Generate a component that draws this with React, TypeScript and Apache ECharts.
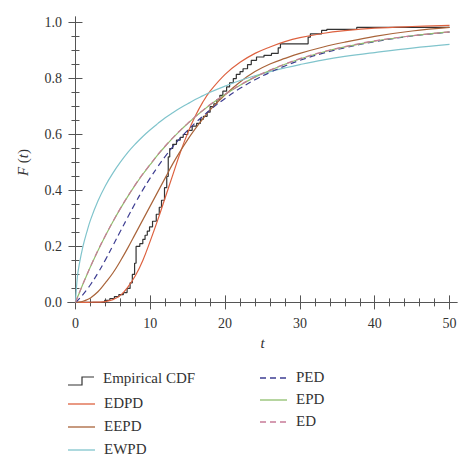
import * as echarts from "echarts";
import { useEffect, useRef } from "react";

// Shared t grid for the fitted CDF curves
const tGrid = [
  0, 0.25, 0.5, 1, 1.5, 2, 3, 4, 5, 6, 7, 8, 9, 10, 11, 12, 13, 14, 15, 16,
  17, 18, 20, 22, 24, 26, 28, 30, 33, 36, 40, 45, 50,
];

const edpd = [
  0, 0, 0, 0, 0, 0.0005, 0.001, 0.003, 0.01, 0.025, 0.055, 0.095, 0.15, 0.22,
  0.295, 0.375, 0.455, 0.535, 0.605, 0.665, 0.715, 0.755, 0.815, 0.858, 0.89,
  0.913, 0.932, 0.946, 0.961, 0.971, 0.98, 0.986, 0.99,
];
const eepd = [
  0, 0.0005, 0.001, 0.004, 0.009, 0.016, 0.038, 0.07, 0.105, 0.148, 0.195,
  0.245, 0.295, 0.345, 0.395, 0.445, 0.495, 0.54, 0.582, 0.62, 0.655, 0.688,
  0.742, 0.788, 0.825, 0.852, 0.872, 0.89, 0.912, 0.93, 0.951, 0.97, 0.983,
];
const ewpd = [
  0, 0.09, 0.135, 0.2, 0.25, 0.294, 0.362, 0.417, 0.462, 0.501, 0.536, 0.566,
  0.593, 0.617, 0.639, 0.66, 0.678, 0.695, 0.71, 0.725, 0.738, 0.751, 0.773,
  0.793, 0.81, 0.825, 0.838, 0.85, 0.866, 0.879, 0.893, 0.909, 0.922,
];
const ped = [
  0, 0.006, 0.013, 0.028, 0.045, 0.063, 0.105, 0.152, 0.203, 0.254, 0.305,
  0.355, 0.402, 0.445, 0.485, 0.522, 0.556, 0.587, 0.615, 0.641, 0.665, 0.688,
  0.729, 0.765, 0.796, 0.822, 0.845, 0.865, 0.89, 0.91, 0.932, 0.952, 0.966,
];
const epd = [
  0, 0.017, 0.033, 0.066, 0.097, 0.127, 0.185, 0.238, 0.288, 0.335, 0.379,
  0.42, 0.458, 0.493, 0.527, 0.558, 0.587, 0.614, 0.639, 0.663, 0.685, 0.706,
  0.743, 0.776, 0.805, 0.829, 0.851, 0.87, 0.894, 0.913, 0.934, 0.953, 0.967,
];
const ed = [
  0, 0.017, 0.034, 0.066, 0.097, 0.128, 0.186, 0.239, 0.289, 0.336, 0.38,
  0.421, 0.459, 0.494, 0.528, 0.559, 0.588, 0.615, 0.64, 0.664, 0.686, 0.707,
  0.744, 0.777, 0.806, 0.83, 0.852, 0.871, 0.895, 0.914, 0.935, 0.953, 0.967,
];

// Empirical CDF jump points (t, level after the jump)
const ecdfT = [
  0, 3.9, 4.6, 5.2, 5.8, 6.4, 6.9, 7.3, 7.6, 7.9, 8.1, 8.6, 9.0, 9.3, 9.6, 9.9,
  10.3, 10.8, 11.2, 11.5, 11.9, 12.2, 12.4, 12.6, 13.0, 13.5, 14.0, 14.4, 15.0,
  15.6, 16.2, 16.7, 17.1, 17.6, 18.0, 18.5, 18.9, 19.3, 19.7, 20.2, 20.6, 21.1,
  21.5, 22.0, 22.4, 23.0, 23.5, 24.2, 25.2, 26.2, 27.1, 27.4, 31.1, 31.4, 32.9,
  33.6, 37.6, 50,
];
const ecdfF = [
  0, 0.007, 0.014, 0.021, 0.028, 0.035, 0.05, 0.07, 0.1, 0.14, 0.2, 0.21, 0.225,
  0.24, 0.255, 0.27, 0.29, 0.315, 0.34, 0.365, 0.41, 0.45, 0.52, 0.55, 0.565,
  0.58, 0.59, 0.6, 0.615, 0.63, 0.64, 0.655, 0.665, 0.68, 0.7, 0.71, 0.725,
  0.74, 0.755, 0.77, 0.785, 0.8, 0.815, 0.825, 0.835, 0.85, 0.865, 0.877,
  0.883, 0.89, 0.91, 0.924, 0.948, 0.96, 0.972, 0.976, 0.983, 0.983,
];

// Tick positions
const xMajorTicks = [0, 10, 20, 30, 40, 50];
const xMinorTicks = [
  2, 4, 6, 8, 12, 14, 16, 18, 22, 24, 26, 28, 32, 34, 36, 38, 42, 44, 46, 48,
];
const yMajorTicks = [0, 0.2, 0.4, 0.6, 0.8, 1.0];
const yMinorTicks = [
  0.05, 0.1, 0.15, 0.25, 0.3, 0.35, 0.45, 0.5, 0.55, 0.65, 0.7, 0.75, 0.85,
  0.9, 0.95,
];

const FONT = "'Liberation Serif', 'DejaVu Serif', serif";
const FRAME = "#555";
const TEXT = "#333";

const COLORS = {
  ecdf: "#333",
  edpd: "#dd6240",
  eepd: "#a9643a",
  ewpd: "#80c4cc",
  ped: "#3e3e92",
  epd: "#8fbf6c",
  ed: "#c77b98",
};
const DASH = [6, 4];

const pair = (ys: number[]) => tGrid.map((t, i) => [t, ys[i]]);

// Legend layout: [name, color, dashed, iconLeft, rowY]
const legendItems: [string, string, boolean, number, number][] = [
  ["EDPD", COLORS.edpd, false, 68, 404],
  ["EEPD", COLORS.eepd, false, 68, 427],
  ["EWPD", COLORS.ewpd, false, 68, 450],
  ["PED", COLORS.ped, true, 260, 378],
  ["EPD", COLORS.epd, false, 260, 400],
  ["ED", COLORS.ed, true, 260, 422],
];

export default function App() {
  const chartRef = useRef<HTMLDivElement | null>(null);

  useEffect(() => {
    const el = chartRef.current;
    if (!el) return;
    const chart = echarts.init(el, undefined, { renderer: "svg" });

    const xBase = {
      type: "value" as const,
      min: -1,
      max: 51,
      splitLine: { show: false },
    };
    const yBase = {
      type: "value" as const,
      min: -0.02,
      max: 1.02,
      splitLine: { show: false },
    };
    const lineOn = { show: true, lineStyle: { color: FRAME, width: 1 } };
    const ticks = (vals: number[], length: number) => ({
      show: true,
      inside: true,
      length,
      customValues: vals,
      lineStyle: { color: FRAME, width: 1 },
    });
    const noLabel = { show: false };

    const curve = (
      name: string,
      ys: number[],
      color: string,
      dashed = false
    ) => ({
      name,
      type: "line" as const,
      data: pair(ys),
      smooth: 0.4,
      symbol: "none",
      lineStyle: { color, width: 1.2, type: dashed ? DASH : "solid" },
      itemStyle: { color },
    });

    const legendFont = `15px ${FONT}`;
    const legendGraphics: any[] = [
      {
        type: "polyline",
        shape: {
          points: [
            [68, 385],
            [82, 385],
            [82, 377],
            [94, 377],
          ],
        },
        style: { stroke: COLORS.ecdf, lineWidth: 1.2, fill: null },
      },
      {
        type: "text",
        x: 103,
        y: 378,
        style: {
          text: "Empirical CDF",
          font: legendFont,
          fill: TEXT,
          verticalAlign: "middle",
        },
      },
    ];
    legendItems.forEach(([name, color, dashed, left, y]) => {
      legendGraphics.push({
        type: "line",
        shape: { x1: left, y1: y, x2: left + 27, y2: y },
        style: {
          stroke: color,
          lineWidth: 1.3,
          lineDash: dashed ? DASH : null,
        },
      });
      legendGraphics.push({
        type: "text",
        x: left + 36,
        y: y - 1,
        style: {
          text: name,
          font: legendFont,
          fill: TEXT,
          verticalAlign: "middle",
        },
      });
    });

    const option: echarts.EChartsOption = {
      animation: false,
      backgroundColor: "#fff",
      grid: { left: 68, top: 17, width: 389, height: 291 },
      xAxis: [
        {
          ...xBase,
          position: "bottom",
          axisLine: lineOn,
          axisTick: ticks(xMajorTicks, 7),
          axisLabel: {
            customValues: xMajorTicks,
            margin: 8,
            fontFamily: FONT,
            fontSize: 14,
            color: TEXT,
          },
          name: "t",
          nameLocation: "middle",
          nameGap: 27,
          nameTextStyle: {
            fontFamily: FONT,
            fontSize: 15,
            fontStyle: "italic",
            color: TEXT,
          },
        },
        {
          ...xBase,
          position: "bottom",
          axisLine: { show: false },
          axisTick: ticks(xMinorTicks, 4),
          axisLabel: noLabel,
        },
        {
          ...xBase,
          position: "top",
          axisLine: lineOn,
          axisTick: ticks(xMajorTicks, 7),
          axisLabel: noLabel,
        },
        {
          ...xBase,
          position: "top",
          axisLine: { show: false },
          axisTick: ticks(xMinorTicks, 4),
          axisLabel: noLabel,
        },
      ],
      yAxis: [
        {
          ...yBase,
          position: "left",
          axisLine: lineOn,
          axisTick: ticks(yMajorTicks, 7),
          axisLabel: {
            customValues: yMajorTicks,
            margin: 6,
            fontFamily: FONT,
            fontSize: 14,
            color: TEXT,
            formatter: (v: number) => v.toFixed(1),
          },
          name: "{i|F} ({i|t})",
          nameLocation: "middle",
          nameGap: 38,
          nameTextStyle: {
            fontFamily: FONT,
            fontSize: 15,
            color: TEXT,
            rich: {
              i: {
                fontFamily: FONT,
                fontSize: 15,
                fontStyle: "italic",
                color: TEXT,
              },
            },
          },
        },
        {
          ...yBase,
          position: "left",
          axisLine: { show: false },
          axisTick: ticks(yMinorTicks, 4),
          axisLabel: noLabel,
        },
        {
          ...yBase,
          position: "right",
          axisLine: lineOn,
          axisTick: ticks(yMajorTicks, 7),
          axisLabel: noLabel,
        },
        {
          ...yBase,
          position: "right",
          axisLine: { show: false },
          axisTick: ticks(yMinorTicks, 4),
          axisLabel: noLabel,
        },
      ],
      graphic: legendGraphics,
      series: [
        {
          name: "Empirical CDF",
          type: "line",
          data: ecdfT.map((t, i) => [t, ecdfF[i]]),
          step: "end",
          symbol: "none",
          lineStyle: { color: COLORS.ecdf, width: 1.2 },
          itemStyle: { color: COLORS.ecdf },
        },
        curve("EDPD", edpd, COLORS.edpd),
        curve("EEPD", eepd, COLORS.eepd),
        curve("EWPD", ewpd, COLORS.ewpd),
        curve("PED", ped, COLORS.ped, true),
        curve("EPD", epd, COLORS.epd),
        curve("ED", ed, COLORS.ed, true),
      ],
    };

    chart.setOption(option, { notMerge: true });

    return () => {
      if (!chart.isDisposed()) chart.dispose();
    };
  }, []);

  return (
    <div
      ref={chartRef}
      style={{ position: "absolute", left: 0, top: 0, width: 474, height: 471 }}
    />
  );
}
